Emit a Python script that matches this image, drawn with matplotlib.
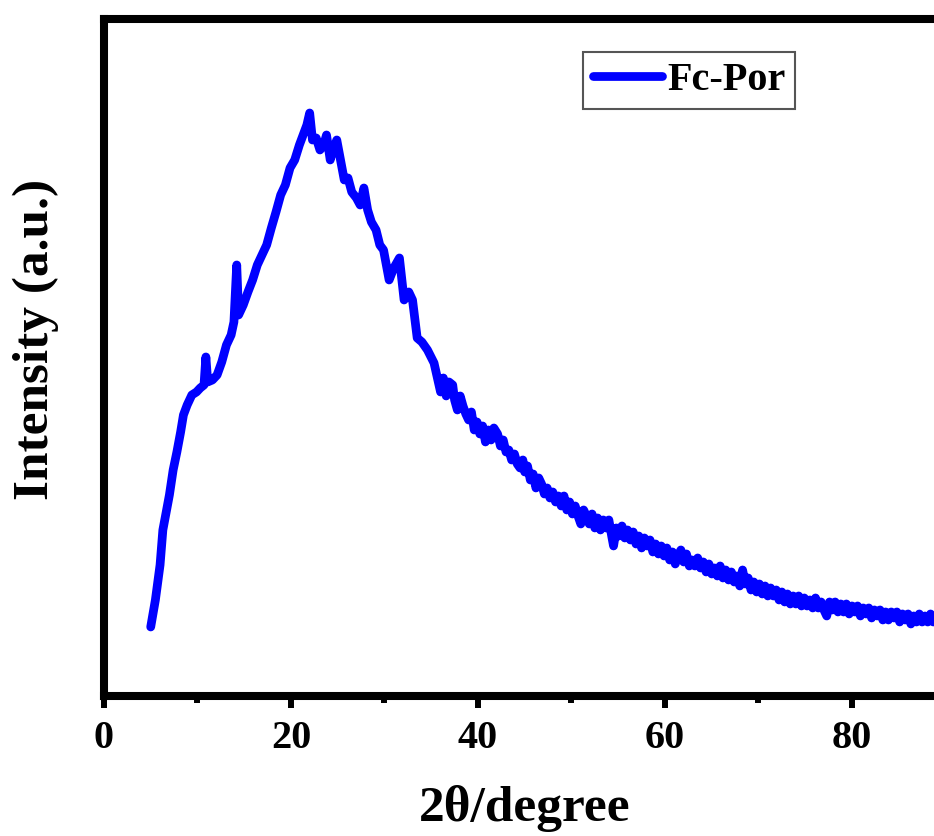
import matplotlib
matplotlib.use("Agg")
import matplotlib.pyplot as plt

# ---- data (2theta in degrees, intensity in arbitrary units) ----
two_theta = [
    5.0, 5.5, 6.0, 6.3, 6.6, 7.0, 7.4, 7.8, 8.2, 8.5, 8.9, 9.4, 9.9, 10.3, 10.7,
    10.9, 11.1, 11.6, 12.1, 12.6, 13.1, 13.6, 13.9, 14.2, 14.4, 14.9, 15.4, 15.9,
    16.4, 16.9, 17.4, 17.9, 18.4, 18.9, 19.4, 19.9, 20.4, 20.9, 21.3, 21.7, 22.0,
    22.3, 22.7, 23.1, 23.5, 23.8, 24.2, 24.5, 24.9, 25.3, 25.7, 26.1, 26.5, 27.0,
    27.4, 27.8, 28.2, 28.6, 29.1, 29.5, 29.9, 30.5, 31.0, 31.6, 32.1, 32.6, 33.0,
    33.5, 34.0, 34.6, 35.3,
    36.0, 36.3, 36.6, 36.9, 37.3, 37.5, 37.8, 38.1, 38.4, 38.7, 39.0, 39.3, 39.6,
    39.9, 40.2, 40.5, 40.8, 41.1, 41.4, 41.7, 42.1, 42.4, 42.7, 43.0, 43.3, 43.6,
    43.9, 44.2, 44.5, 44.8, 45.0, 45.3, 45.6, 45.9, 46.2, 46.5, 46.8, 47.1, 47.4,
    47.7, 48.0, 48.3, 48.6, 48.9, 49.2, 49.5, 49.8, 50.1, 50.4, 50.7, 51.0, 51.3,
    51.6, 51.9, 52.2, 52.5, 52.8, 53.1, 53.4, 53.7, 54.0, 54.3, 54.5, 54.8, 55.1,
    55.4, 55.7, 56.0, 56.3, 56.6, 56.9, 57.2, 57.5, 57.8, 58.1, 58.4, 58.7, 59.0,
    59.3, 59.6, 59.9, 60.2, 60.5, 60.8, 61.1, 61.4, 61.7, 62.0, 62.3, 62.6, 62.9,
    63.2, 63.5, 63.8, 64.1, 64.4, 64.7, 65.0, 65.3, 65.6, 65.9, 66.2, 66.5, 66.8,
    67.1, 67.4, 67.7, 68.0, 68.3, 68.6, 68.9, 69.2, 69.5, 69.8, 70.1, 70.4, 70.7,
    71.0, 71.3, 71.6, 71.9, 72.2, 72.5, 72.8, 73.1, 73.4, 73.7, 74.0, 74.3, 74.6,
    74.9, 75.2, 75.5, 75.8, 76.1, 76.4, 76.7, 77.0, 77.3, 77.6, 77.9, 78.2, 78.5,
    78.8, 79.1, 79.4, 79.7, 80.0, 80.3, 80.6, 80.9, 81.2, 81.5, 81.8, 82.1, 82.4,
    82.7, 83.0, 83.3, 83.6, 83.9, 84.2, 84.5, 84.8, 85.1, 85.4, 85.7, 86.0, 86.3,
    86.6, 86.9, 87.2, 87.5, 87.8, 88.1, 88.4, 88.7, 89.0, 89.5,
]
intensity = [
    69, 96, 131, 166, 181, 201, 226, 244, 264, 281, 291, 301, 304, 308, 311,
    339, 314, 316, 321, 334, 351, 361, 374, 431, 381, 391, 404, 416,
    431, 441, 451, 468, 484, 501, 511, 528, 536, 551, 561, 571, 583,
    556, 558, 546, 551, 561, 536, 546, 556, 536, 516, 518, 504, 498,
    491, 508, 486, 474, 466, 451, 446, 416, 428, 438, 396, 404, 396,
    358, 354, 346, 333,
    304, 318, 300, 314, 311, 296, 286, 300, 290, 282, 276, 284, 266,
    274, 262, 270, 254, 266, 256, 268, 262, 250, 256, 244, 246, 236,
    242, 232, 228, 236, 224, 230, 216, 222, 208, 218, 212, 202, 208,
    198, 204, 194, 200, 190, 200, 186, 194, 182, 190, 180, 172, 186,
    180, 172, 182, 168, 178, 166, 176, 168, 176, 160, 150, 168, 160,
    170, 158, 166, 156, 164, 152, 160, 148, 158, 150, 156, 144, 152,
    142, 150, 140, 148, 136, 144, 132, 140, 146, 134, 142, 130, 136,
    130, 138, 128, 134, 124, 132, 122, 128, 120, 130, 118, 126, 116,
    124, 114, 120, 110, 126, 112, 118, 106, 114, 104, 112, 102, 110,
    100, 108, 100, 106, 96, 104, 94, 102, 92, 100, 92, 100, 90,
    98, 90, 96, 88, 98, 88, 94, 86, 80, 94, 86, 94, 84,
    92, 84, 92, 82, 90, 84, 90, 80, 88, 82, 88, 78, 86,
    80, 86, 76, 84, 76, 84, 78, 84, 74, 82, 76, 82, 72,
    80, 74, 82, 74, 80, 74, 82, 74, 80, 76,
]
series_label = "Fc-Por"
x_ticks = [0, 20, 40, 60, 80]
x_minor_ticks = [10, 30, 50, 70]

plt.rcParams['font.family'] = ['Liberation Serif', 'DejaVu Serif']
plt.rcParams['font.weight'] = 'bold'

fig = plt.figure(figsize=(9.34, 8.36), dpi=100)
ax = fig.add_axes([0.1113, 0.1675, 0.901, 0.8098])

ax.plot(two_theta, intensity, color='#0000FF', lw=6.3, solid_joinstyle='round',
        solid_capstyle='round', label=series_label)

ax.set_xlim(0, 90)
ax.set_ylim(0, 677)
ax.set_xticks(x_ticks)
ax.set_xticks(x_minor_ticks, minor=True)
ax.set_yticks([])

for s in ['left', 'bottom', 'top']:
    ax.spines[s].set_linewidth(5.8)
ax.spines['right'].set_visible(False)

ax.tick_params(axis='x', which='major', direction='out', length=8.6, width=4.3,
               labelsize=29, pad=9)
ax.tick_params(axis='x', which='minor', direction='out', length=5, width=4.3)
for lab in ax.get_xticklabels():
    lab.set_fontweight('bold')

ax.set_xlabel('2θ/degree', fontsize=37, fontweight='bold', labelpad=20)
ax.set_ylabel('Intensity (a.u.)', fontsize=37, fontweight='bold')
ax.yaxis.set_label_coords(-0.054, 0.526)

leg = ax.legend(loc='upper left', bbox_to_anchor=(0.569, 0.951), borderaxespad=0,
                handlelength=1.72, handletextpad=0.12, borderpad=0.25,
                fancybox=False, framealpha=1, edgecolor='#555555',
                prop={'weight': 'bold', 'size': 29})
leg.get_frame().set_linewidth(1.5)

fig.savefig('out.png', dpi=100)
